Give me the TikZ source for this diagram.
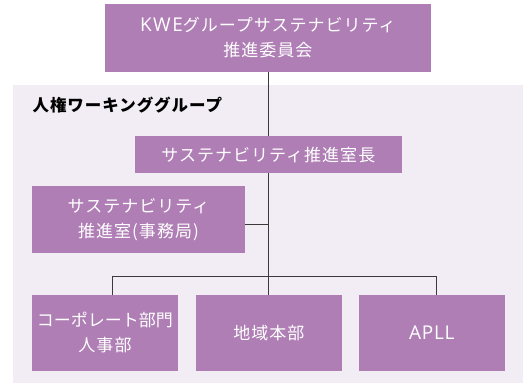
\documentclass[tikz,border=0pt]{standalone}
\usepackage{fontspec}
\newfontfamily\jp{Noto Sans CJK JP}[LetterSpace=6]
\newfontfamily\lat{Open Sans}[LetterSpace=8]
\definecolor{purp}{HTML}{AF7EB5}
\definecolor{panel}{HTML}{F2ECF4}
\definecolor{conn}{HTML}{3A3A3A}
\newcommand{\latw}[1]{{\lat\fontsize{19}{25}\selectfont #1}}
\begin{document}
\begin{tikzpicture}[x=1pt,y=-1pt,
  box/.style={fill=purp, text=white, inner sep=0pt, align=center,
    font=\jp\fontsize{17}{25}\selectfont},
  conn/.style={draw=conn, line width=1pt}]
\useasboundingbox (0,0) rectangle (523,383);
\fill[panel] (13.3,85) rectangle (523,383);
\node[anchor=west, font=\jp\bfseries\fontsize{16.5}{20}\selectfont] (wg) at (29,105.5) {人権ワーキンググループ};
% connectors
\coordinate (bus) at (268.3,276.7);
\coordinate (ja) at (112.7,276.7);
\coordinate (jc) at (436.7,276.7);
\coordinate (jo) at (268.3,224);
\node[box, minimum width=325.7pt, minimum height=67.7pt] (top) at (267.85,37.85) {\latw{KWE}グループサステナビリティ\\推進委員会};
\draw[conn] (top.south -| bus) -- (bus);
\node[box, minimum width=266.7pt, minimum height=37.3pt] (chief) at (268.35,154.65) {サステナビリティ推進室長};
\node[box, minimum width=213pt, minimum height=67.3pt] (office) at (138.5,219.65) {サステナビリティ\\推進室(事務局)};
\node[box, minimum width=146pt, minimum height=75.7pt] (a) at (105,332.85) {{\addfontfeature{LetterSpace=0}コーポレート部門}\\人事部};
\node[box, minimum width=145.7pt, minimum height=75.7pt] (b) at (268.85,332.85) {地域本部};
\node[box, minimum width=146.3pt, minimum height=75.7pt] (c) at (431.85,332.85) {{\lat\addfontfeature{LetterSpace=4}\fontsize{19}{25}\selectfont APLL}};
\draw[conn] (office.east |- jo) -- (jo);
\draw[conn] (ja |- a.north) -- (ja) -- (jc) -- (jc |- c.north);
\draw[conn] (bus) -- (bus |- b.north);
\end{tikzpicture}
\end{document}
